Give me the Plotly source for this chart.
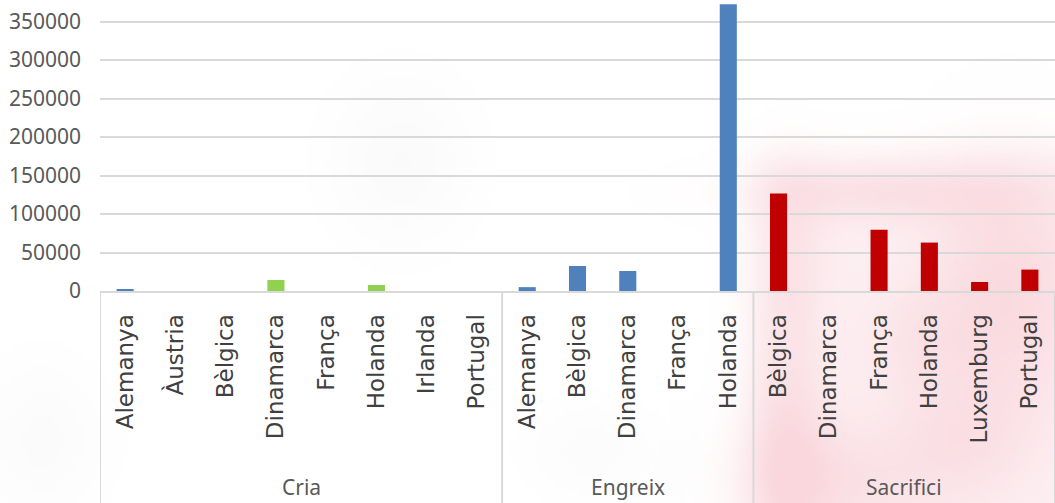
import base64, struct, zlib
import numpy as np
import plotly.graph_objects as go

groups = ["Cria"] * 8 + ["Engreix"] * 5 + ["Sacrifici"] * 6
countries = [
    "Alemanya", "Àustria", "Bèlgica", "Dinamarca", "França", "Holanda", "Irlanda", "Portugal",
    "Alemanya", "Bèlgica", "Dinamarca", "França", "Holanda",
    "Bèlgica", "Dinamarca", "França", "Holanda", "Luxemburg", "Portugal",
]
values = [
    2600, 0, 0, 14300, 0, 7800, 0, 0,
    5000, 32500, 26000, 0, 372300,
    126500, 0, 79700, 62900, 11700, 27800,
]
group_names = ["Cria", "Engreix", "Sacrifici"]
y_ticks = [0, 50000, 100000, 150000, 200000, 250000, 300000, 350000]

BLUE, GREEN, RED = "#4F81BD", "#92D050", "#C00000"
bar_colors = [BLUE, BLUE, BLUE, GREEN, GREEN, GREEN, GREEN, GREEN] + [BLUE] * 5 + [RED] * 6

keys = [f"{g}|{c}" for g, c in zip(groups, countries)]

W, H = 1055, 503
L, T, B, R = 100, 0, 212, 0
ymax = 291 / 0.00077

fig = go.Figure(go.Bar(
    x=keys, y=values,
    marker=dict(color=bar_colors, line=dict(width=0)),
))

fig.update_layout(
    width=W, height=H,
    margin=dict(l=L, r=R, t=T, b=B, pad=0),
    paper_bgcolor="white", plot_bgcolor="rgba(0,0,0,0)",
    bargap=0.66, showlegend=False,
    font=dict(family="Noto Sans", color="#595959"),
)
fig.update_yaxes(
    range=[0, ymax], tickvals=y_ticks, ticktext=[str(v) for v in y_ticks],
    showgrid=True, gridcolor="#D9D9D9", gridwidth=2, zeroline=False,
    tickfont=dict(family="Noto Sans", size=21, color="#595959"),
    ticks="", ticklabelstandoff=18, automargin=False,
)
fig.update_xaxes(
    type="category", categoryorder="array", categoryarray=keys,
    range=[-0.5, len(keys) - 0.5],
    tickvals=keys, ticktext=countries, tickangle=-90,
    tickfont=dict(family="DejaVu Sans", size=23, color="#404040"),
    showline=True, linecolor="#D9D9D9", linewidth=2,
    showgrid=False, ticks="", ticklabelstandoff=12, automargin=False,
)

# group labels and dividers
ph_px = H - T - B
bottom_paper = -B / ph_px
start = 0
for g in group_names:
    n = groups.count(g)
    fig.add_shape(type="line", xref="x", yref="paper", x0=start - 0.5, x1=start - 0.5,
                  y0=0, y1=bottom_paper, line=dict(color="#D9D9D9", width=2))
    fig.add_annotation(xref="x", yref="paper", x=start + (n - 1) / 2, y=bottom_paper + 16 / ph_px,
                       text=g, showarrow=False, yanchor="middle",
                       font=dict(family="Noto Sans", size=21, color="#595959"))
    start += n
fig.add_shape(type="line", xref="x", yref="paper", x0=start - 0.5, x1=start - 0.5,
              y0=0, y1=bottom_paper, line=dict(color="#D9D9D9", width=2))

# soft watermark background (blurred blobs) as an inline PNG
sc = 5
iw, ih = W // sc + 1, H // sc + 1
yy, xx = np.mgrid[0:ih, 0:iw] * sc
def blob(cx, cy, sx, sy, a):
    return a * np.exp(-(((xx - cx) / sx) ** 2 + ((yy - cy) / sy) ** 2) / 2)
def srect(x0, x1, y0, y1, s, a):
    sig = lambda v: 1 / (1 + np.exp(-v))
    return a * sig((xx - x0) / s) * sig((x1 - xx) / s) * sig((yy - y0) / s) * sig((y1 - yy) / s)
pink = (srect(755, 1100, 150, 560, 12, 0.10)
        + blob(785, 440, 30, 90, 0.12) + blob(880, 190, 100, 22, 0.10) + blob(1010, 290, 55, 90, 0.14)
        + blob(830, 480, 70, 40, 0.10) + blob(960, 440, 50, 45, 0.08) + blob(790, 250, 25, 60, 0.08)
        + blob(920, 340, 40, 40, 0.06))
gray = blob(400, 160, 55, 65, 0.04) + blob(40, 440, 50, 60, 0.035) + blob(590, 450, 50, 40, 0.03)
pink = np.clip(pink, 0, 0.26)
gray = np.clip(gray, 0, 0.1)
alpha = np.clip(pink + gray, 0, 1)
pc, gc = np.array([232, 100, 122]), np.array([140, 140, 140])
w_p = np.where(alpha > 0, pink / np.maximum(alpha, 1e-9), 0)
rgb = (w_p[..., None] * pc + (1 - w_p[..., None]) * gc)
img = np.dstack([rgb, alpha[..., None] * 255]).astype(np.uint8)
raw = b"".join(b"\x00" + img[r].tobytes() for r in range(ih))
def chunk(t, d):
    c = struct.pack(">I", len(d)) + t + d
    return c + struct.pack(">I", zlib.crc32(t + d) & 0xffffffff)
png = (b"\x89PNG\r\n\x1a\n" + chunk(b"IHDR", struct.pack(">IIBBBBB", iw, ih, 8, 6, 0, 0, 0))
       + chunk(b"IDAT", zlib.compress(raw, 9)) + chunk(b"IEND", b""))
src = "data:image/png;base64," + base64.b64encode(png).decode()
pw = W - L - R
fig.add_layout_image(source=src, xref="paper", yref="paper", x=-L / pw, y=1 + T / ph_px,
                     sizex=W / pw, sizey=H / ph_px, sizing="stretch", layer="below",
                     xanchor="left", yanchor="top")

fig.write_html("out.html", config={"displayModeBar": False},
               post_script="document.body.style.margin='0px';")
